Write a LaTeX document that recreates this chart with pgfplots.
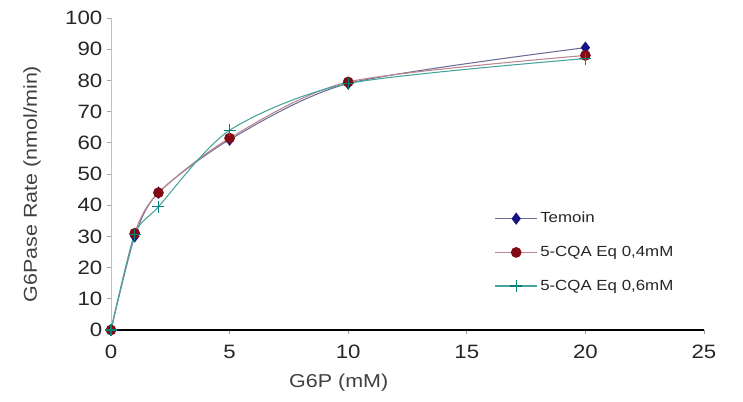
\documentclass[border=0pt]{standalone}
\usepackage{fontspec}
\setmainfont{Liberation Sans}[FakeStretch=1.15]
\usepackage{pgfplots}
\pgfplotsset{compat=1.18}
\definecolor{temM}{RGB}{20,20,130}
\definecolor{temL}{RGB}{110,110,150}
\definecolor{cqaM}{RGB}{130,10,20}
\definecolor{cqaL}{RGB}{185,135,145}
\definecolor{sixM}{RGB}{0,130,120}
\definecolor{sixL}{RGB}{70,165,155}
\begin{document}
\begin{tikzpicture}
\begin{axis}[
  at={(83.25pt,54pt)}, anchor=south west,
  scale only axis, width=444.75pt, height=234pt,
  xmin=0, xmax=25, ymin=0, ymax=100,
  clip=false,
  axis x line=bottom, axis y line=left,
  x axis line style={-, black, line width=1.3pt},
  y axis line style={-, black!25, line width=0.6pt},
  xtick={0,5,10,15,20,25},
  ytick={0,10,...,100},
  tick align=outside,
  major tick length=3pt,
  xtick style={black!40, line width=0.5pt},
  ytick style={black!35, line width=0.5pt},
  /pgf/number format/assume math mode=true,
  tick label style={font=\fontsize{14.5}{16}\selectfont, text=black!85},
  xticklabel style={yshift=-5pt},
  xlabel={G6P (mM)},
  ylabel={G6Pase Rate (nmol/min)},
  label style={font=\fontsize{14}{16}\selectfont, text=black!75},
  xlabel style={at={(axis description cs:0.384,0)}, anchor=center, yshift=-39.75pt},
  ylabel style={at={(axis description cs:-0.133,0.468)}, anchor=center},
  legend style={draw=none, fill=none, at={(0.64,0.395)}, anchor=north west,
    font=\fontsize{11}{13}\selectfont, row sep=12pt, text=black!85},
  legend cell align=left,
  legend image code/.code={\draw[mark repeat=2,mark phase=2] plot coordinates {(0cm,0cm)(0.55cm,0cm)(1.1cm,0cm)};},
]
\addplot[temL, line width=0.8pt, smooth, tension=0.45, mark=diamond*, mark size=4pt,
  mark options={solid, fill=temM, draw=temM}]
  coordinates {(0,0) (1,30) (2,44) (5,61) (10,79) (20,90.5)};
\addlegendentry{Temoin}
\addplot[cqaL, line width=0.8pt, smooth, tension=0.45, mark=*, mark size=3.6pt,
  mark options={solid, fill=cqaM, draw=cqaM}]
  coordinates {(0,0) (1,31) (2,44) (5,61.5) (10,79.5) (20,88)};
\addlegendentry{5-CQA Eq 0,4mM}
\addplot[sixL, line width=0.8pt, smooth, tension=0.45, mark=+, mark size=4.5pt,
  mark options={solid, draw=sixM, line width=0.9pt}]
  coordinates {(0,0) (1,30.5) (2,39.5) (5,64) (10,79) (20,87)};
\addlegendentry{5-CQA Eq 0,6mM}
\end{axis}
\pgfresetboundingbox
\path (0,0) rectangle (557.25pt,301.5pt);
\end{tikzpicture}
\end{document}
